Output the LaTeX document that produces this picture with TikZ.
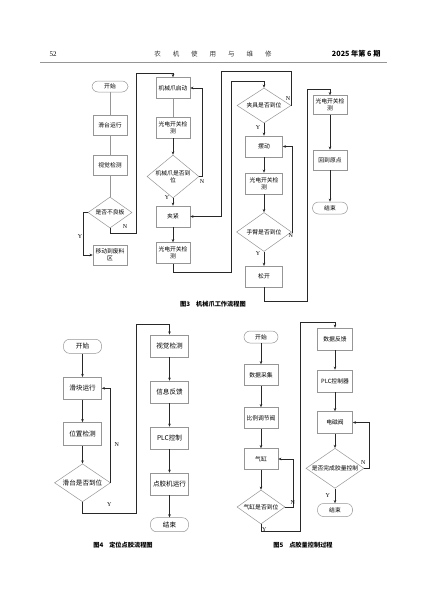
\documentclass[tikz,border=0pt]{standalone}
\usepackage{fontspec}
\setmainfont{Liberation Serif}
\newfontfamily\cjk{Noto Sans CJK SC}
\usepackage{tikz}
\usetikzlibrary{arrows.meta, shapes.geometric, positioning}
\usepackage{xcolor}
\definecolor{boxgray}{RGB}{150,150,150}
\definecolor{linedark}{RGB}{40,40,40}

\tikzset{
  procbox/.style={draw=boxgray, fill=white, line width=0.5pt, minimum width=34pt,
    minimum height=20pt, inner sep=1pt, align=center,
    font=\cjk\fontsize{5.8}{7}\selectfont},
  termbox/.style={procbox, rounded corners=6pt, minimum height=12pt},
  decide/.style={procbox, diamond, aspect=1.5, inner sep=0pt},
  flowline/.style={draw=linedark, line width=0.6pt, -{Stealth[length=3.2pt,width=2.6pt]}},
  plainline/.style={draw=boxgray, line width=0.6pt},
  yn/.style={font=\fontsize{6}{7}\selectfont, inner sep=0pt},
  figcap/.style={font=\cjk\bfseries\fontsize{6.2}{7}\selectfont},
  bigtxt/.style={font=\cjk\fontsize{6.6}{8}\selectfont}
}

\begin{document}
\begin{tikzpicture}[x=1pt, y=-1pt]
\useasboundingbox (0,0) rectangle (427,603);
% page head
\node[font=\fontsize{7}{8}\selectfont] (pageno) at (53,54) {52};
\node[font=\cjk\fontsize{6.5}{8}\selectfont, black!80] (journal) at (213,54)
  {农\hspace{12pt}机\hspace{12pt}使\hspace{12pt}用\hspace{12pt}与\hspace{12pt}维\hspace{12pt}修};
\node[font=\cjk\bfseries\fontsize{7.2}{8}\selectfont, anchor=east] (issue) at (384,54) {2025 年第 6 期};
\draw[boxgray, line width=0.8pt] (40,62) -- (387,62);

% ---- fig 3 ----
\node[termbox, minimum width=36pt, minimum height=11pt] (a0) at (110,86.5) {开始};
\foreach \nm/\y/\txt in {a1/125.5/滑台运行, a2/165.5/视觉检测, a4/255/{移动到废料\\区}}
  \node[procbox] (\nm) at (110,\y) {\txt};
\node[decide, minimum width=44pt, minimum height=31pt] (a3) at (110,212.5) {是否不良板};
\foreach \nm/\y/\txt in {b1/88/机械爪启动, b2/127.5/{光电开关检\\测}, b4/216.5/夹紧, b5/253/{光电开关检\\测}}
  \node[procbox, minimum height=21pt] (\nm) at (173,\y) {\txt};
\node[decide, aspect=1.2, minimum width=52pt, minimum height=43pt] (b3) at (173,176.5) {机械爪是否到\\位};
\foreach \nm/\y/\txt in {c2/146.5/摆动, c3/183.5/{光电开关检\\测}, c5/276.7/松开}
  \node[procbox, minimum width=37pt, minimum height=21pt] (\nm) at (264,\y) {\txt};
\node[decide, minimum width=54pt, minimum height=35pt] (c1) at (264,105.5) {夹具是否到位};
\node[decide, minimum width=55pt, minimum height=39pt] (c4) at (264,232) {手臂是否到位};
\node[procbox, minimum height=19pt] (d1) at (330,105) {光电开关检\\测};
\node[procbox] (d2) at (330,160) {回到原点};
\node[termbox, minimum width=35pt] (d3) at (330,208) {结束};

\draw[plainline] (a0) -- (a1);
\draw[plainline] (a1) -- (a2);
\draw[plainline] (a2) -- (a3);
\draw[flowline] (a3.west) -- ++(-4,0) |- (a4.west);
\draw[flowline] (a3.south) -- ++(0,5) -| (136,73) -| (b1.north);
\draw[plainline] (b1) -- (b2);
\draw[flowline] (b2) -- (b3);
\draw[flowline] (b3) -- (b4);
\draw[flowline] (b4) -- (b5);
\draw[flowline] (b3.east) -- ++(3,0) |- (b1.east);
\draw[flowline] (b5.south) -- ++(0,8.7) -| (231.7,81) -| (c1.north);
\draw[flowline] (c1.east) |- (221.7,71.7) |- (b4.east);
\draw[flowline] (c1) -- (c2);
\draw[flowline] (c2) -- (c3);
\draw[flowline] (c3) -- (c4);
\draw[flowline] (c4) -- (c5);
\draw[flowline] (c4.east) -- ++(0.5,0) |- (c2.east);
\draw[flowline] (c5.south) -- ++(0,14.3) -| (307.7,89) -| (d1.north);
\draw[flowline] (d1) -- (d2);
\draw[flowline] (d2) -- (d3);
\node[yn] (ya3) at (80,237) {Y};
\node[yn] (na3) at (125,227) {N};
\node[yn] (yb3) at (167,198) {Y};
\node[yn] (nb3) at (202,182) {N};
\node[yn] (yc1) at (258,127.7) {Y};
\node[yn] (nc1) at (288,99) {N};
\node[yn] (yc4) at (258,254) {Y};
\node[yn] (nc4) at (290.7,235.7) {N};
\node[figcap] (cap3) at (213,304) {图3\hspace{6pt}机械爪工作流程图};

% ---- fig 4 ----
\node[termbox, bigtxt, minimum width=38pt, minimum height=14pt] (e0) at (82.5,346.3) {开始};
\node[procbox, bigtxt, minimum width=38pt, minimum height=22pt] (e1) at (82.5,388.3) {滑块运行};
\node[procbox, bigtxt, minimum width=38pt, minimum height=23pt] (e2) at (82.5,434) {位置检测};
\node[decide, bigtxt, minimum width=56pt, minimum height=38pt] (e3) at (82.5,482.8) {滑台是否到位};
\foreach \nm/\y/\txt in {f1/345.8/视觉检测, f2/392/信息反馈, f3/438/PLC控制, f4/484/点胶机运行}
  \node[procbox, bigtxt, minimum width=38pt, minimum height=22pt] (\nm) at (169.5,\y) {\txt};
\node[termbox, bigtxt, minimum width=38pt, minimum height=14pt] (f5) at (169.5,524.7) {结束};

\draw[flowline] (e0) -- (e1);
\draw[flowline] (e1) -- (e2);
\draw[flowline] (e2) -- (e3);
\draw[flowline] (e3.east) |- (e1.east);
\draw[flowline] (e3.south) -- ++(0,11) -| (136,324.3) -| (f1.north);
\draw[flowline] (f1) -- (f2);
\draw[flowline] (f2) -- (f3);
\draw[flowline] (f3) -- (f4);
\draw[flowline] (f4) -- (f5);
\node[yn] (ne3) at (116.7,445) {N};
\node[yn] (ye3) at (109.3,505) {Y};
\node[figcap] (cap4) at (123,545) {图4\hspace{6pt}定位点胶流程图};

% ---- fig 5 ----
\node[termbox, minimum width=34pt, minimum height=12pt] (g0) at (261,337) {开始};
\foreach \nm/\y/\txt in {g1/375/数据采集, g2/418/比例调节阀, g3/459/气缸}
  \node[procbox, minimum height=21pt] (\nm) at (261,\y) {\txt};
\node[decide, minimum width=48pt, minimum height=34pt] (g4) at (261,507) {气缸是否到位};
\foreach \nm/\y/\txt in {h1/339/数据反馈, h2/381/PLC控制器, h3/422.5/电磁阀}
  \node[procbox, minimum width=35pt, minimum height=22pt] (\nm) at (335,\y) {\txt};
\node[decide, minimum width=58pt, minimum height=40pt] (h4) at (335,468.3) {是否完成胶量控制};
\node[termbox, minimum width=35pt, minimum height=13pt] (h5) at (335,510) {结束};

\draw[flowline] (g0) -- (g1);
\draw[flowline] (g1) -- (g2);
\draw[flowline] (g2) -- (g3);
\draw[flowline] (g3) -- (g4);
\draw[flowline] (g4.east) -- ++(7.7,0) |- (g3.east);
\draw[flowline] (g4.south) -- ++(0,6.7) -| (300.7,322.7) -| (h1.north);
\draw[flowline] (h1) -- (h2);
\draw[flowline] (h2) -- (h3);
\draw[flowline] (h3) -- (h4);
\draw[flowline] (h4) -- (h5);
\draw[flowline] (h4.east) -- ++(5,0) |- (h3.east);
\node[yn] (ng4) at (292.7,502.7) {N};
\node[yn] (yg4) at (264.3,530) {Y};
\node[yn] (nh4) at (363.3,462.7) {N};
\node[yn] (yh4) at (327.7,496) {Y};
\node[figcap] (cap5) at (303,545) {图5\hspace{6pt}点胶量控制过程};
\end{tikzpicture}
\end{document}
